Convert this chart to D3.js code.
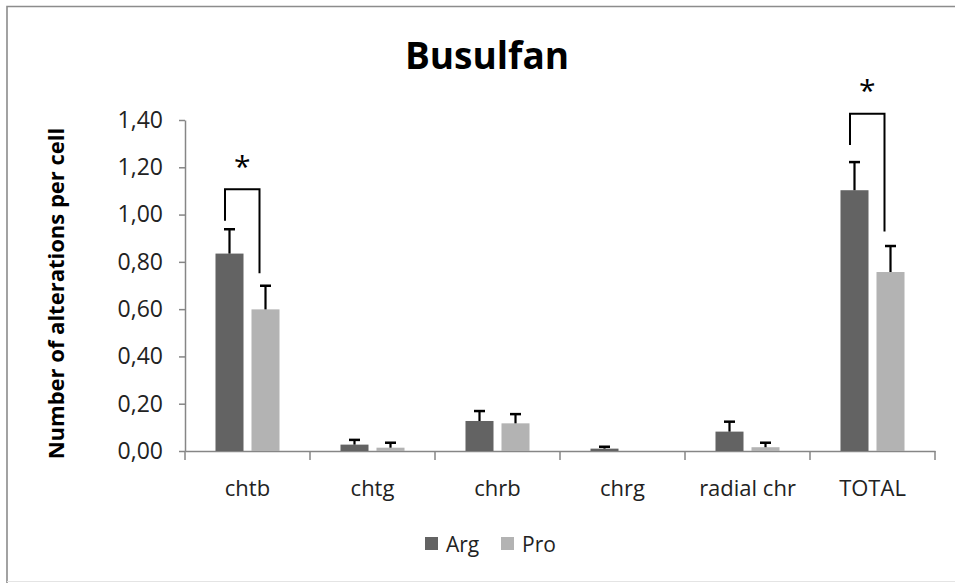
<!DOCTYPE html>
<html>
<head>
<meta charset="utf-8">
<script src="https://cdn.jsdelivr.net/npm/d3@7"></script>
<style>
  html, body { margin: 0; padding: 0; background: #fff; }
  svg { display: block; }
</style>
</head>
<body>
<svg id="chart" width="955" height="583"></svg>
<script>
// ---------- data ----------
const categories = ["chtb", "chtg", "chrb", "chrg", "radial chr", "TOTAL"];
const series = ["Arg", "Pro"];
const argValues = [0.835, 0.027, 0.127, 0.010, 0.082, 1.103];
const argErrors = [0.103, 0.020, 0.042, 0.008, 0.042, 0.119];
const proValues = [0.599, 0.014, 0.117, 0.000, 0.016, 0.757];
const proErrors = [0.100, 0.021, 0.039, 0.000, 0.019, 0.110];
const yTicks = [0, 0.2, 0.4, 0.6, 0.8, 1.0, 1.2, 1.4];
// significance brackets: left leg bottom, bracket top, right leg bottom, star level
const brackets = [
  { cat: "chtb",  leftY: 0.974, topY: 1.107, rightY: 0.752, starY: 1.215 },
  { cat: "TOTAL", leftY: 1.294, topY: 1.426, rightY: 0.928, starY: 1.535 }
];
const title = "Busulfan";
const yTitle = "Number of alterations per cell";
const colors = { Arg: "#636363", Pro: "#b3b3b3" };

// ---------- layout ----------
const svg = d3.select("#chart");
const W = 955, H = 583;
const plot = { left: 185, right: 935, top: 120, bottom: 451 };
const fontMain = "'Open Sans', 'Liberation Sans', sans-serif";

// frame
svg.append("rect").attr("x", 0).attr("y", 0).attr("width", W).attr("height", H).attr("fill", "#fff");
svg.append("path")
  .attr("d", `M7,${H + 2} L7,6.5 L${W + 2},6.5`)
  .attr("fill", "none").attr("stroke", "#8c8c8c").attr("stroke-width", 1.6);
svg.append("line").attr("x1", 7).attr("x2", W).attr("y1", 581.5).attr("y2", 581.5)
  .attr("stroke", "#e4e4e4").attr("stroke-width", 1);

// scales
const x0 = d3.scaleBand().domain(categories).range([plot.left, plot.right]).padding(0);
const x1 = d3.scaleBand().domain(series).range([0, x0.bandwidth()])
  .paddingInner(0.222).paddingOuter(0.847);
const y = d3.scaleLinear().domain([0, 1.4]).range([plot.bottom, plot.top]);

const data = categories.map((c, i) => ({
  cat: c,
  vals: [
    { s: "Arg", v: argValues[i], e: argErrors[i] },
    { s: "Pro", v: proValues[i], e: proErrors[i] }
  ]
}));

// title
svg.append("text")
  .attr("x", 487).attr("y", 69)
  .attr("text-anchor", "middle")
  .attr("font-family", fontMain).attr("font-weight", 700).attr("font-size", 37)
  .attr("fill", "#000")
  .text(title);

// y axis
const yAxis = d3.axisLeft(y).tickValues(yTicks).tickSize(6).tickSizeOuter(0)
  .tickFormat(d => d3.format(".2f")(d).replace(".", ","));
const gy = svg.append("g").attr("transform", `translate(${plot.left},0)`).call(yAxis);
gy.attr("font-size", null).attr("font-family", null);
gy.select(".domain").attr("stroke", "#868686").attr("stroke-width", 1.5);
gy.selectAll(".tick line").attr("stroke", "#868686").attr("stroke-width", 1.5);
gy.selectAll(".tick text")
  .attr("x", -22)
  .style("font-family", fontMain).style("font-size", "23px").attr("fill", "#222");

// x axis
const xAxis = d3.axisBottom(x0).tickSize(0).tickSizeOuter(0);
const gx = svg.append("g").attr("transform", `translate(0,${plot.bottom})`).call(xAxis);
gx.attr("font-size", null).attr("font-family", null);
gx.select(".domain").attr("stroke", "#868686").attr("stroke-width", 1.5);
gx.selectAll(".tick text")
  .attr("y", 45).attr("dy", 0)
  .style("font-family", fontMain).style("font-size", "22px").attr("fill", "#222");
// category boundary ticks
const boundaries = categories.map(c => x0(c)).concat([x0(categories[categories.length - 1]) + x0.bandwidth()]);
gx.selectAll("line.bound").data(boundaries).join("line")
  .attr("class", "bound")
  .attr("x1", d => d).attr("x2", d => d)
  .attr("y1", 0).attr("y2", 9)
  .attr("stroke", "#868686").attr("stroke-width", 1.5);

// y title
svg.append("text")
  .attr("transform", `translate(64,${(plot.top + plot.bottom) / 2 + 8}) rotate(-90)`)
  .attr("text-anchor", "middle")
  .attr("font-family", fontMain).attr("font-weight", 700).attr("font-size", 22)
  .attr("fill", "#000")
  .text(yTitle);

// bars
const groups = svg.append("g").selectAll("g").data(data).join("g")
  .attr("transform", d => `translate(${x0(d.cat)},0)`);
groups.selectAll("rect").data(d => d.vals).join("rect")
  .attr("x", d => x1(d.s))
  .attr("y", d => y(d.v))
  .attr("width", x1.bandwidth())
  .attr("height", d => y(0) - y(d.v))
  .attr("fill", d => colors[d.s]);

// error bars (upper only)
const eb = groups.selectAll("g.err").data(d => d.vals.filter(v => v.e > 0)).join("g").attr("class", "err");
eb.append("line")
  .attr("x1", d => x1(d.s) + x1.bandwidth() / 2).attr("x2", d => x1(d.s) + x1.bandwidth() / 2)
  .attr("y1", d => y(d.v)).attr("y2", d => y(d.v + d.e))
  .attr("stroke", "#000").attr("stroke-width", 2.2);
eb.append("line")
  .attr("x1", d => x1(d.s) + x1.bandwidth() / 2 - 5.5).attr("x2", d => x1(d.s) + x1.bandwidth() / 2 + 5.5)
  .attr("y1", d => y(d.v + d.e)).attr("y2", d => y(d.v + d.e))
  .attr("stroke", "#000").attr("stroke-width", 2.5);

// significance brackets
brackets.forEach(b => {
  const xl = x0(b.cat) + x1("Arg") + x1.bandwidth() / 2 - 4.5;
  const xr = x0(b.cat) + x1("Pro") + x1.bandwidth() / 2 - 6;
  svg.append("path")
    .attr("d", `M${xl},${y(b.leftY)} L${xl},${y(b.topY)} L${xr},${y(b.topY)} L${xr},${y(b.rightY)}`)
    .attr("fill", "none").attr("stroke", "#000").attr("stroke-width", 2);
  svg.append("text")
    .attr("x", (xl + xr) / 2).attr("y", y(b.starY) + 13)
    .attr("text-anchor", "middle")
    .attr("font-family", fontMain).attr("font-size", 30).attr("fill", "#000")
    .text("*");
});

// legend
const legend = svg.append("g");
const legendItems = [
  { s: "Arg", x: 425 },
  { s: "Pro", x: 501 }
];
legendItems.forEach(li => {
  legend.append("rect").attr("x", li.x).attr("y", 537).attr("width", 13).attr("height", 13)
    .attr("fill", colors[li.s]);
  legend.append("text").attr("x", li.x + 21).attr("y", 552)
    .attr("font-family", fontMain).attr("font-size", 21).attr("fill", "#222")
    .text(li.s);
});
</script>
</body>
</html>
